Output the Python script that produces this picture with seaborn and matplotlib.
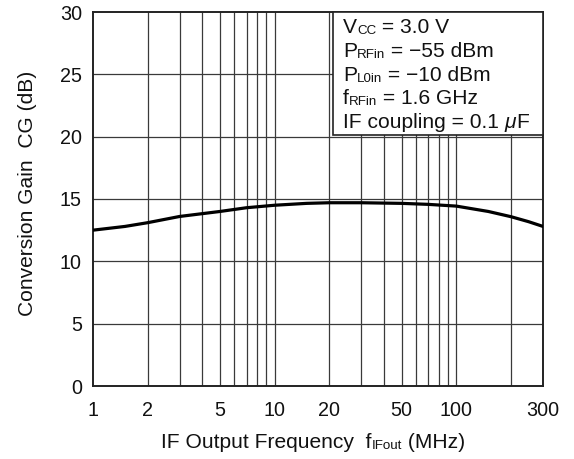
import numpy as np
import pandas as pd
import matplotlib
matplotlib.use("Agg")
import matplotlib.pyplot as plt
from matplotlib.ticker import FixedLocator, NullFormatter
from matplotlib.transforms import offset_copy
import seaborn as sns

# IF output frequency (MHz) and measured conversion gain (dB)
freq_mhz = [1, 1.5, 2, 3, 5, 7, 10, 15, 20, 30, 50, 70, 100, 150, 200, 250, 300]
gain_db = [12.5, 12.8, 13.1, 13.6, 14.0, 14.3, 14.5, 14.65, 14.7, 14.7, 14.65, 14.57, 14.43, 14.0, 13.58, 13.18, 12.8]

x_tick_values = [1, 2, 5, 10, 20, 50, 100, 300]
x_tick_labels = ["1", "2", "5", "10", "20", "50", "100", "300"]
y_tick_values = [0, 5, 10, 15, 20, 25, 30]

# Test conditions: each line is a list of (text, kind) runs
conditions = [
    [("V", False), ("CC", True), (" = 3.0 V", False)],
    [("P", False), ("RFin", True), (" = \u221255 dBm", False)],
    [("P", False), ("L0in", True), (" = \u221210 dBm", False)],
    [("f", False), ("RFin", True), (" = 1.6 GHz", False)],
    [("IF coupling = 0.1 ", False), ("\u03bc", "mu"), ("F", False)],
]

sns.set_style("white")
plt.rcParams["font.family"] = ["Liberation Sans", "DejaVu Sans"]

TICK_FS = 14.2
FS = 15.1
SUB = 9.6

fig = plt.figure(figsize=(5.74, 4.59), dpi=100)
ax = fig.add_axes([93 / 574, 1 - 386 / 459, 450 / 574, 374 / 459])

df = pd.DataFrame({"freq": freq_mhz, "gain": gain_db})
sns.lineplot(data=df, x="freq", y="gain", ax=ax, color="black", linewidth=2.3, zorder=5)

ax.set_xscale("log")
ax.set_xlim(1, 300)
ax.set_ylim(0, 30)

grid_x = [m * 10 ** d for d in range(0, 3) for m in range(1, 10) if m * 10 ** d <= 300]
for gx in grid_x[1:-1]:
    ax.axvline(gx, color="#3a3a3a", linewidth=0.9, zorder=1)
for gy in y_tick_values[1:-1]:
    ax.axhline(gy, color="#3a3a3a", linewidth=0.9, zorder=1)

ax.xaxis.set_major_locator(FixedLocator(x_tick_values))
ax.set_xticklabels(x_tick_labels)
ax.xaxis.set_minor_locator(FixedLocator([]))
ax.xaxis.set_minor_formatter(NullFormatter())
ax.set_yticks(y_tick_values)
ax.tick_params(axis="both", length=0, labelsize=TICK_FS, colors="#111111")
ax.tick_params(axis="x", pad=10.5)
ax.tick_params(axis="y", pad=8)

for sp in ax.spines.values():
    sp.set_color("#222222")
    sp.set_linewidth(1.4)

ax.set_xlabel("")
ax.set_ylabel("Conversion Gain  CG (dB)", fontsize=FS, color="#111111")
ax.yaxis.set_label_coords(-0.125, 0.516)

renderer = fig.canvas.get_renderer()


def draw_runs(x, y, runs, transform, center=False):
    """Draw a line of text from runs, sharing one baseline."""
    pieces = []
    for s, kind in runs:
        if kind == "mu":
            pieces.append((s, FS, "italic", 0))
        elif kind:
            pieces.append((s, SUB, "normal", -1.0))
        else:
            pieces.append((s, FS, "normal", 0))
    widths = []
    for s, size, style, _ in pieces:
        t = fig.text(0, 0, s, fontsize=size, fontstyle=style)
        widths.append(t.get_window_extent(renderer).width)
        t.remove()
    dx = -sum(widths) / 2 if center else 0.0
    for (s, size, style, dy), w in zip(pieces, widths):
        fig.text(x, y, s, fontsize=size, fontstyle=style, color="#111111",
                 va="baseline", ha="left", zorder=10,
                 transform=offset_copy(transform, fig=fig, x=dx, y=dy, units="dots"))
        dx += w


# Conditions box in the upper right corner
box_left, box_bottom = 333 / 574, 1 - 135 / 459
box_right, box_top = 543 / 574, 1 - 12 / 459
fig.patches.append(plt.Rectangle((box_left, box_bottom), box_right - box_left, box_top - box_bottom,
                                 transform=fig.transFigure, facecolor="white",
                                 edgecolor="#222222", linewidth=1.2, zorder=6))
baselines = [33, 57, 81, 104, 128]
for runs, by in zip(conditions, baselines):
    draw_runs(343 / 574, 1 - by / 459, runs, fig.transFigure)

# X-axis label with subscripted symbol
draw_runs(313 / 574, 1 - 448 / 459,
          [("IF Output Frequency  f", False), ("IFout", True), (" (MHz)", False)],
          fig.transFigure, center=True)

fig.savefig("out.png", dpi=100)
